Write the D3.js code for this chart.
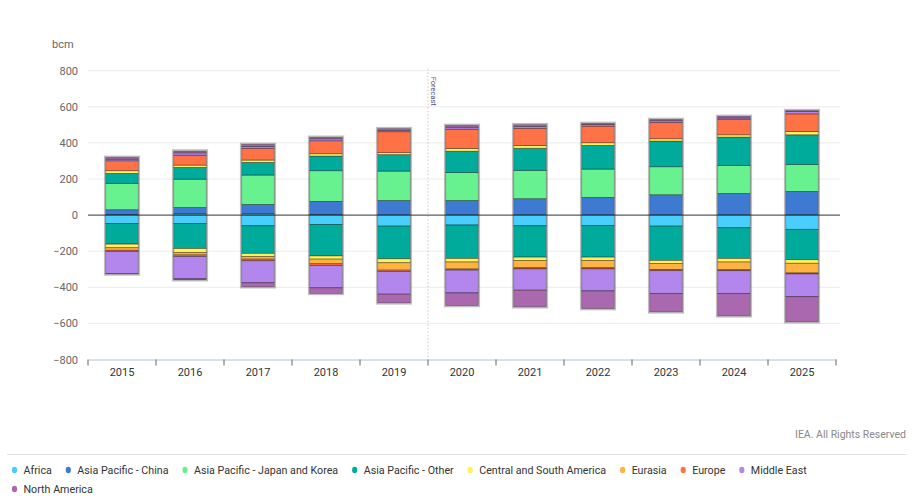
<!DOCTYPE html>
<html>
<head>
<meta charset="utf-8">
<script src="https://cdn.jsdelivr.net/npm/d3@7"></script>
<style>
  html, body { margin: 0; padding: 0; background: #fff; }
  svg { display: block; font-family: Roboto, "Noto Sans", sans-serif; }
</style>
</head>
<body>
<svg id="chart" width="915" height="499"></svg>
<script>
// ---- Data (bcm) ----
const years = ["2015","2016","2017","2018","2019","2020","2021","2022","2023","2024","2025"];
const yTicks = [-800, -600, -400, -200, 0, 200, 400, 600, 800];
const regions = ["Africa","Asia Pacific - China","Asia Pacific - Japan and Korea","Asia Pacific - Other","Central and South America","Eurasia","Europe","Middle East","North America"];
const colors = ["#48cffd","#3e79d2","#68f28f","#00ab9c","#fff159","#ffb441","#ff7246","#b386ee","#aa69ae"];

// Imports (positive)
const impAfrica  = [4, 9, 9, 4, 0, 0, 0, 0, 0, 0, 0];
const impChina   = [26, 33, 50, 72, 81, 81, 91, 98, 113, 120, 131];
const impJK      = [146, 157, 163, 170, 163, 155, 157, 157, 155, 155, 150];
const impAPOther = [55, 65, 70, 81, 91, 118, 122, 131, 142, 157, 164];
const impCSA     = [15, 13, 13, 13, 11, 15, 15, 15, 13, 13, 18];
const impEurasia = [0, 0, 0, 0, 0, 0, 0, 0, 0, 0, 0];
const impEurope  = [55, 55, 65, 72, 116, 107, 96, 92, 91, 87, 98];
const impME      = [9, 13, 11, 11, 8, 11, 11, 9, 9, 7, 13];
const impNA      = [10, 10, 11, 8, 9, 10, 9, 6, 7, 8, 5];

// Exports (negative)
const expAfrica  = [-46, -46, -59, -52, -61, -55, -59, -57, -61, -70, -79];
const expChina   = [0, 0, 0, 0, 0, 0, 0, 0, 0, 0, 0];
const expJK      = [0, 0, 0, 0, 0, 0, 0, 0, 0, 0, 0];
const expAPOther = [-115, -139, -153, -174, -181, -185, -174, -176, -190, -170, -168];
const expCSA     = [-20, -22, -18, -18, -22, -20, -18, -18, -17, -20, -20];
const expEurasia = [-14, -14, -14, -26, -41, -39, -41, -41, -33, -43, -54];
const expEurope  = [-6, -8, -9, -9, -7, -6, -6, -6, -7, -5, -5];
const expME      = [-124, -124, -122, -124, -126, -126, -118, -122, -126, -126, -126];
const expNA      = [-1, -5, -22, -31, -48, -70, -92, -98, -102, -124, -139];

const imports = [impAfrica, impChina, impJK, impAPOther, impCSA, impEurasia, impEurope, impME, impNA];
const exportsArr = [expAfrica, expChina, expJK, expAPOther, expCSA, expEurasia, expEurope, expME, expNA];
const forecastStart = "2020";

// ---- Build table for stacking ----
const keys = [];
regions.forEach((r, i) => keys.push({ key: "imp_" + i, color: colors[i] }));
regions.forEach((r, i) => keys.push({ key: "exp_" + i, color: colors[i] }));
const table = years.map((yv, j) => {
  const row = { year: yv };
  regions.forEach((r, i) => { row["imp_" + i] = imports[i][j]; row["exp_" + i] = exportsArr[i][j]; });
  return row;
});
const series = d3.stack().keys(keys.map(k => k.key)).offset(d3.stackOffsetDiverging)(table);

// ---- Layout ----
const svg = d3.select("#chart");
const plotLeft = 88, plotRight = 836, plotTop = 70.7, plotBottom = 359.5;

const x = d3.scaleBand().domain(years).range([plotLeft, plotRight]).padding(0);
const xb = d3.scaleBand().domain(years).range([plotLeft, plotRight]).paddingInner(0.52).paddingOuter(0.26);
const y = d3.scaleLinear().domain([-800, 800]).range([plotBottom, plotTop]);

// Gridlines
svg.append("g").selectAll("line").data(yTicks.filter(t => t !== 0 && t !== -800)).join("line")
  .attr("x1", plotLeft).attr("x2", plotRight + 4)
  .attr("y1", d => y(d)).attr("y2", d => y(d))
  .attr("stroke", "#ececec").attr("stroke-width", 1);

// Y axis labels
const yAxis = d3.axisLeft(y).tickValues(yTicks).tickSize(0).tickPadding(10);
const ya = svg.append("g").attr("transform", `translate(${plotLeft},0)`).call(yAxis);
ya.select(".domain").remove();
ya.selectAll("text").attr("fill", "#666").style("font-size", "11px").style("font-family", "Roboto, sans-serif");

svg.append("text").attr("x", 52).attr("y", 48).attr("fill", "#666")
  .style("font-size", "11px").text("bcm");

// X axis
const xAxis = d3.axisBottom(x).tickSize(0).tickPadding(9);
const xa = svg.append("g").attr("transform", `translate(0,${plotBottom})`).call(xAxis);
xa.select(".domain").attr("stroke", "#ccd6eb").attr("stroke-width", 1.5);
xa.selectAll("text").attr("fill", "#333").style("font-size", "11px").style("font-family", "Roboto, sans-serif");
// boundary ticks
const bounds = years.map(yv => x(yv)).concat([x(years[years.length - 1]) + x.bandwidth()]);
svg.append("g").selectAll("line").data(bounds).join("line")
  .attr("x1", d => d).attr("x2", d => d)
  .attr("y1", plotBottom).attr("y2", plotBottom + 6)
  .attr("stroke", "#666").attr("stroke-width", 1);

// Forecast line
const fx = x(forecastStart);
svg.append("line").attr("x1", fx).attr("x2", fx).attr("y1", plotTop - 2).attr("y2", plotBottom)
  .attr("stroke", "#c8c8d0").attr("stroke-width", 1).attr("stroke-dasharray", "1.5,2");
svg.append("text").attr("transform", `translate(${fx + 2.5},${plotTop + 6}) rotate(90)`)
  .attr("fill", "#5b4a7a").style("font-size", "7.5px").text("Forecast");

// Bars
const gBars = svg.append("g");
series.forEach((s, si) => {
  gBars.append("g").attr("fill", keys[si].color)
    .selectAll("rect").data(s).join("rect")
    .attr("x", d => xb(d.data.year))
    .attr("width", xb.bandwidth())
    .attr("y", d => y(Math.max(d[0], d[1])))
    .attr("height", d => Math.abs(y(d[0]) - y(d[1])))
    .attr("stroke", "rgba(0,0,0,0.45)")
    .attr("stroke-width", d => Math.abs(d[1] - d[0]) > 0 ? 0.8 : 0);
});
// Outer outline of each bar
const extents = years.map(yv => {
  let mn = 0, mx = 0;
  series.forEach(s => { const d = s.find(e => e.data.year === yv); mn = Math.min(mn, d[0], d[1]); mx = Math.max(mx, d[0], d[1]); });
  return { year: yv, mn, mx };
});
svg.append("g").selectAll("rect").data(extents).join("rect")
  .attr("x", d => xb(d.year) - 1).attr("width", xb.bandwidth() + 2)
  .attr("y", d => y(d.mx) - 1).attr("height", d => y(d.mn) - y(d.mx) + 2)
  .attr("fill", "none").attr("stroke", "rgba(110,110,110,0.45)").attr("stroke-width", 1.5);

// Zero line
svg.append("line").attr("x1", plotLeft).attr("x2", plotRight + 4).attr("y1", y(0)).attr("y2", y(0))
  .attr("stroke", "#333").attr("stroke-width", 1);

// Credit
svg.append("text").attr("x", 906).attr("y", 438).attr("text-anchor", "end")
  .attr("fill", "#888").style("font-size", "10.5px").text("IEA. All Rights Reserved");

// Separator
svg.append("line").attr("x1", 7).attr("x2", 907).attr("y1", 454.5).attr("y2", 454.5)
  .attr("stroke", "#e2e2e2").attr("stroke-width", 1);

// Legend
const leg = svg.append("g");
let lx = 14.5, ly = 470;
regions.forEach((r, i) => {
  const g = leg.append("g");
  const t = g.append("text").attr("x", 9).attr("y", 4).attr("fill", "#333")
    .style("font-size", "10.7px").text(r);
  const w = t.node().getComputedTextLength();
  if (lx + 9 + w > 850) { lx = 14.5; ly += 19; }
  g.attr("transform", `translate(${lx},${ly})`);
  g.append("ellipse").attr("cx", 0).attr("cy", 0).attr("rx", 2.6).attr("ry", 3.2).attr("fill", colors[i]);
  lx += 9 + w + 16.5;
});
</script>
</body>
</html>
